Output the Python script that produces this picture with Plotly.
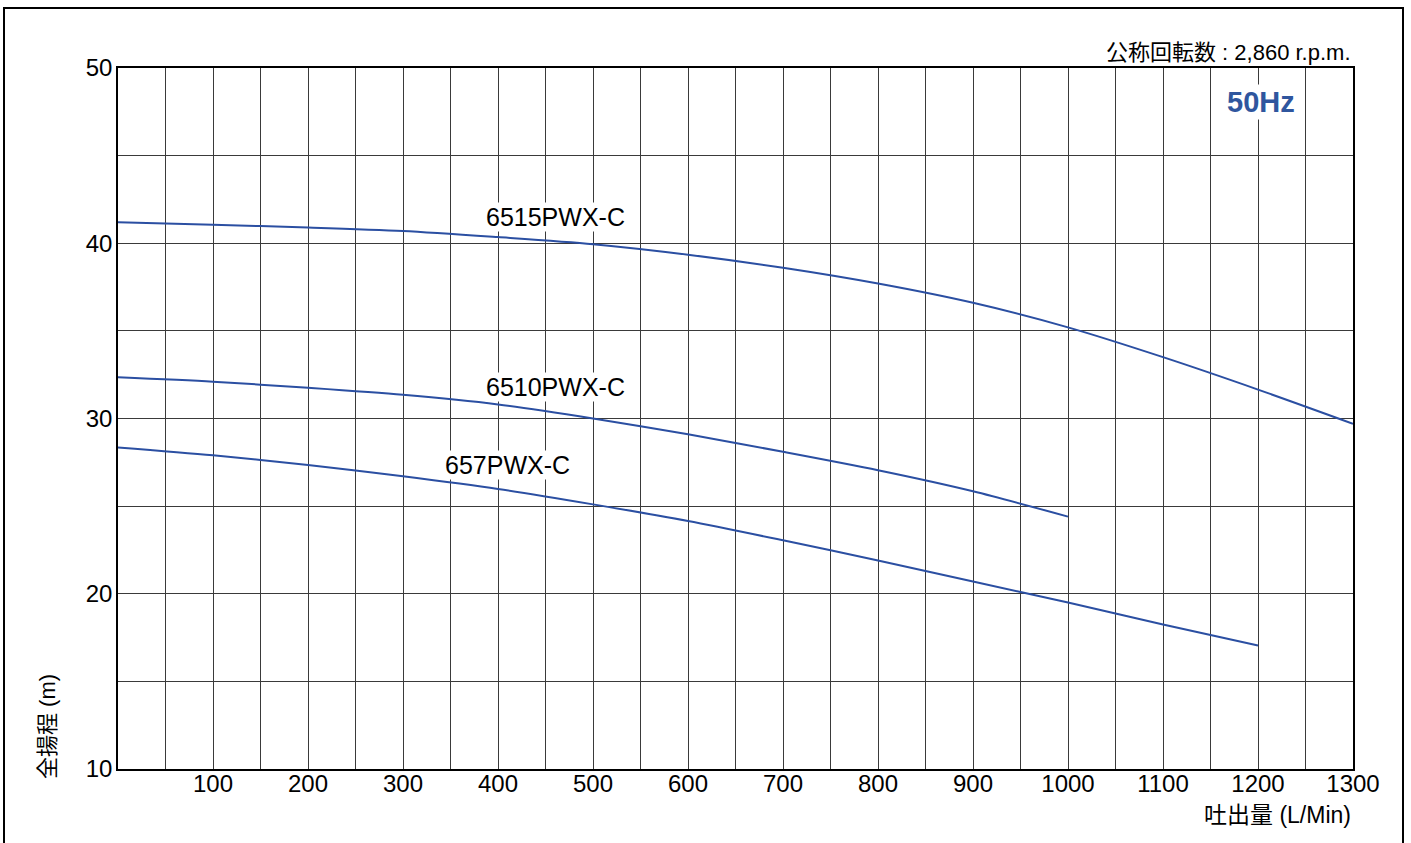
import plotly.graph_objects as go

# Data
flow = [0, 100, 200, 300, 400, 500, 600, 700, 800, 900, 1000, 1100, 1200, 1300]
head_6515 = [41.2, 41.05, 40.9, 40.7, 40.35, 39.95, 39.35, 38.6, 37.7, 36.6, 35.2, 33.5, 31.65, 29.7]
head_6510 = [32.35, 32.1, 31.75, 31.35, 30.8, 30.0, 29.1, 28.1, 27.05, 25.85, 24.4]
head_657 = [28.35, 27.9, 27.35, 26.7, 25.98, 25.1, 24.15, 23.05, 21.9, 20.7, 19.5, 18.25, 17.05]

series_names = ["6515PWX-C", "6510PWX-C", "657PWX-C"]
label_x = [460, 460, 410]
label_y = [41.5, 31.8, 27.35]

x_ticks = [100, 200, 300, 400, 500, 600, 700, 800, 900, 1000, 1100, 1200, 1300]
y_ticks = [10, 20, 30, 40, 50]

FONT = "Liberation Sans, Arial, Noto Sans CJK JP, sans-serif"
LINE_COLOR = "#2B4FA2"
GRID = "#3a3a3a"

fig = go.Figure()
for name, ys in zip(series_names, [head_6515, head_6510, head_657]):
    fig.add_trace(go.Scatter(
        x=flow[:len(ys)], y=ys, mode="lines", name=name,
        line=dict(color=LINE_COLOR, width=2, shape="spline", smoothing=0.8),
        showlegend=False, hoverinfo="x+y+name",
    ))

for name, lx, ly in zip(series_names, label_x, label_y):
    fig.add_annotation(x=lx, y=ly, text=name, showarrow=False,
                       font=dict(family=FONT, size=25, color="black"),
                       bgcolor="white", borderpad=0)

fig.update_layout(
    width=1411, height=843,
    margin=dict(l=118, r=58, t=68, b=74),
    paper_bgcolor="white", plot_bgcolor="white",
    font=dict(family=FONT, color="black"),
    xaxis=dict(
        range=[0, 1300], tickvals=x_ticks, ticktext=[str(v) for v in x_ticks],
        showgrid=True, gridcolor=GRID, gridwidth=1,
        minor=dict(dtick=50, tick0=0, showgrid=True, gridcolor=GRID, gridwidth=1),
        showline=True, linecolor="black", linewidth=1.5, mirror=True,
        ticks="", ticklen=0, tickfont=dict(family=FONT, size=24, color="black"),
        ticklabelstandoff=-8,
        zeroline=False, fixedrange=True,
    ),
    yaxis=dict(
        range=[10, 50], tickvals=y_ticks, ticktext=[str(v) for v in y_ticks],
        showgrid=True, gridcolor=GRID, gridwidth=1,
        minor=dict(dtick=5, tick0=0, showgrid=True, gridcolor=GRID, gridwidth=1),
        showline=True, linecolor="black", linewidth=1.5, mirror=True,
        ticks="", ticklen=0, tickfont=dict(family=FONT, size=24, color="black"),
        ticklabelstandoff=-1,
        zeroline=False, fixedrange=True,
    ),
)

# Axis titles and notes
fig.add_annotation(xref="paper", yref="paper", x=(47 - 118) / 1235, y=(769 - 727) / 701,
                   text="全揚程 (m)", textangle=-90, showarrow=False,
                   xanchor="center", yanchor="middle",
                   font=dict(family=FONT, size=22, color="black"))
fig.add_annotation(xref="paper", yref="paper", x=1.0, y=(769 - 815) / 701,
                   text="吐出量 (L/Min)", showarrow=False,
                   xanchor="right", yanchor="middle",
                   font=dict(family=FONT, size=23, color="black"))
fig.add_annotation(xref="paper", yref="paper", x=1.0, y=(769 - 53) / 701,
                   text="公称回転数 : 2,860 r.p.m.", showarrow=False,
                   xanchor="right", yanchor="middle",
                   font=dict(family=FONT, size=22, color="black"))
fig.add_annotation(xref="paper", yref="paper", x=(1261 - 118) / 1235, y=(769 - 102) / 701,
                   text="<b>50Hz</b>", showarrow=False,
                   xanchor="center", yanchor="middle", bgcolor="white",
                   font=dict(family=FONT, size=29, color="#2F569E"))

# Outer frame
fig.add_shape(type="rect", xref="paper", yref="paper",
              x0=(4 - 118) / 1235, x1=(1403 - 118) / 1235,
              y0=(769 - 860) / 701, y1=(769 - 8) / 701,
              line=dict(color="black", width=2), fillcolor="rgba(0,0,0,0)", layer="above")

fig.write_html("out.html", config={"displayModeBar": False},
               post_script="document.body.style.margin='0';document.body.style.overflow='hidden';")
